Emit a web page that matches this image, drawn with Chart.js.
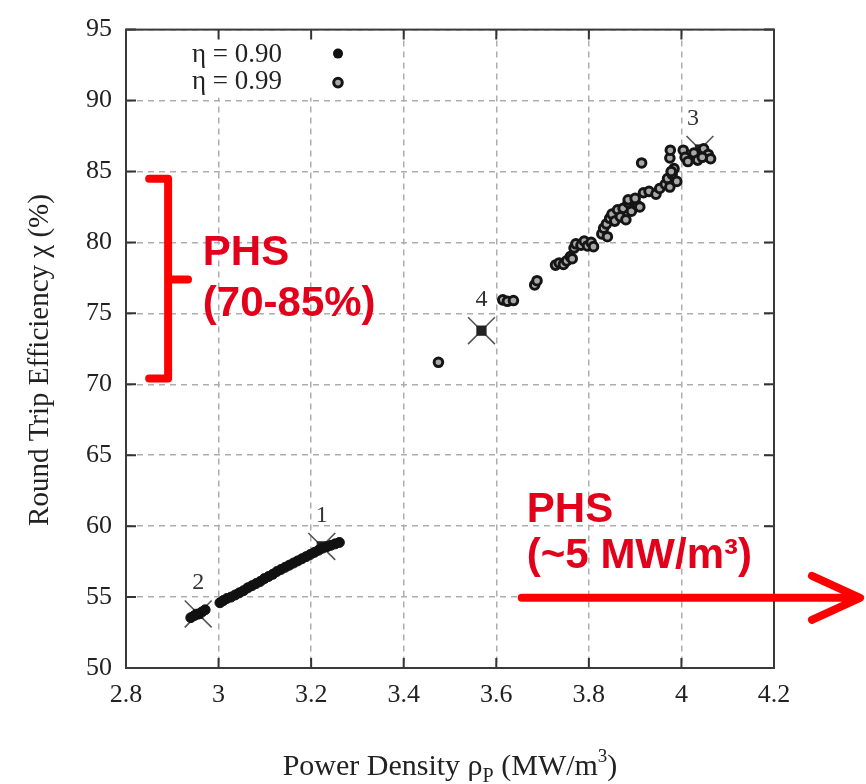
<!DOCTYPE html>
<html>
<head>
<meta charset="utf-8">
<script src="https://cdn.jsdelivr.net/npm/chart.js@4.4.1/dist/chart.umd.min.js"></script>
<style>
  html, body { margin: 0; padding: 0; background: #fff; }
  canvas { display: block; }
</style>
</head>
<body>
<canvas id="chart" width="866" height="784"></canvas>
<script>
// Eficiencia vs densidad de potencia
// -------------------------------------------------------------

// Ejes
const xTickValues = [2.8, 3.0, 3.2, 3.4, 3.6, 3.8, 4.0, 4.2];
const xTickLabels = ['2.8', '3', '3.2', '3.4', '3.6', '3.8', '4', '4.2'];
const yTickValues = [50, 55, 60, 65, 70, 75, 80, 85, 90, 95];
const yTickLabels = ['50', '55', '60', '65', '70', '75', '80', '85', '90', '95'];

// Serie η = 0.90 (puntos rellenos)
const eta090X = [2.94, 2.948, 2.956, 2.964, 2.971, 3.003, 3.01, 3.018, 3.027, 3.036, 3.045, 3.054, 3.063, 3.072,
  3.081, 3.09, 3.099, 3.108, 3.117, 3.126, 3.135, 3.144, 3.153, 3.162, 3.171, 3.18, 3.189, 3.198, 3.207, 3.216,
  3.225, 3.234, 3.243, 3.252, 3.261];
const eta090Y = [53.55, 53.7, 53.8, 53.95, 54.1, 54.6, 54.75, 54.9, 55.0, 55.15, 55.3, 55.45, 55.65, 55.8,
  55.95, 56.1, 56.3, 56.45, 56.6, 56.8, 56.95, 57.1, 57.25, 57.4, 57.55, 57.7, 57.85, 58.0, 58.15, 58.3,
  58.45, 58.55, 58.65, 58.75, 58.85];

// Serie η = 0.99 (puntos huecos)
const eta099X = [3.475, 3.614, 3.624, 3.637, 3.683, 3.688, 3.728, 3.736, 3.745, 3.752, 3.76, 3.764, 3.768, 3.772,
  3.783, 3.79, 3.797, 3.805, 3.81, 3.828, 3.832, 3.838, 3.84, 3.845, 3.85, 3.856, 3.862, 3.868, 3.874, 3.88,
  3.885, 3.892, 3.898, 3.905, 3.91, 3.885, 3.9, 3.918, 3.93, 3.945, 3.953, 3.914, 3.965, 3.97, 3.975, 3.98,
  3.984, 3.99, 3.978, 3.975, 3.976, 4.004, 4.008, 4.014, 4.027, 4.035, 4.048, 4.058, 4.063, 4.045];
const eta099Y = [71.55, 75.95, 75.85, 75.9, 77.0, 77.3, 78.4, 78.55, 78.45, 78.7, 79.0, 78.85, 79.6, 79.9,
  79.8, 80.1, 79.75, 80.0, 79.7, 80.6, 81.0, 81.3, 80.4, 81.7, 82.0, 81.5, 82.3, 81.8, 82.4, 81.6,
  82.8, 82.2, 82.9, 82.6, 82.5, 83.0, 83.1, 83.5, 83.6, 83.4, 83.8, 85.6, 84.1, 84.5, 83.9, 84.8,
  85.2, 84.3, 85.0, 85.95, 86.5, 86.5, 86.0, 85.7, 86.3, 85.8, 86.6, 86.2, 85.9, 86.0];

// Casos marcados con aspa
const caseLabels = ['1', '2', '3', '4'];
const caseX = [3.223, 2.956, 4.04, 3.568];
const caseY = [58.57, 53.81, 86.55, 73.78];

// Anotaciones PHS (en unidades de los ejes)
const bracketX = 2.891, bracketHookX = 2.850, bracketProngX = 2.934;
const bracketTop = 84.48, bracketMid = 77.38, bracketBottom = 70.41;
const phsEffText = ['PHS', '(70-85%)'];
const phsEffPos = { x: 2.966, y: [78.42, 74.8] };
const phsPowText = ['PHS', '(~5 MW/m³)'];
const phsPowPos = { x: 3.666, y: [60.31, 57.04] };
const arrow = { x0: 3.655, x1: 4.386, y: 54.95, headX: 4.282, headUp: 56.5, headDown: 53.4 };

const SERIF = '"Liberation Serif", "DejaVu Serif", serif';
const SANS = '"Liberation Sans", Arial, sans-serif';
const RED = '#ff0000';
const RED_TEXT = '#e2001a';

function toPoints(xs, ys) {
  return xs.map((x, i) => ({ x, y: ys[i] }));
}

// Plugin: marco, marcas interiores, leyenda, títulos y anotaciones
const decorPlugin = {
  id: 'decor',
  beforeDatasetsDraw(chart) {
    const { ctx, chartArea: a } = chart;
    // caja blanca de la leyenda (tapa la rejilla)
    ctx.save();
    ctx.fillStyle = '#fff';
    ctx.fillRect(a.left + 2, a.top + 2, 236, 66);
    ctx.restore();
  },
  afterDatasetsDraw(chart) {
    const { ctx, chartArea: a, scales } = chart;
    const xs = scales.x, ys = scales.y;
    ctx.save();
    // marcas hacia dentro en los cuatro lados
    ctx.strokeStyle = '#333';
    ctx.lineWidth = 2;
    const tl = 10;
    ctx.beginPath();
    xTickValues.forEach(v => {
      const px = xs.getPixelForValue(v);
      ctx.moveTo(px, a.bottom); ctx.lineTo(px, a.bottom - tl);
      ctx.moveTo(px, a.top); ctx.lineTo(px, a.top + tl);
    });
    yTickValues.forEach(v => {
      const py = ys.getPixelForValue(v);
      ctx.moveTo(a.left, py); ctx.lineTo(a.left + tl, py);
      ctx.moveTo(a.right, py); ctx.lineTo(a.right - tl, py);
    });
    ctx.stroke();
    // marco
    ctx.strokeStyle = '#3a3a3a';
    ctx.lineWidth = 2;
    ctx.strokeRect(a.left, a.top, a.right - a.left, a.bottom - a.top);

    // leyenda
    ctx.font = `27px ${SERIF}`;
    ctx.fillStyle = '#222';
    ctx.textAlign = 'right';
    ctx.textBaseline = 'middle';
    ctx.fillText('η = 0.90', a.left + 156, a.top + 25);
    ctx.fillText('η = 0.99', a.left + 156, a.top + 52);
    ctx.beginPath();
    ctx.arc(a.left + 212, a.top + 24, 5, 0, Math.PI * 2);
    ctx.fillStyle = '#111';
    ctx.fill();
    ctx.beginPath();
    ctx.arc(a.left + 212, a.top + 53, 4.3, 0, Math.PI * 2);
    ctx.fillStyle = '#a8a8a8';
    ctx.fill();
    ctx.lineWidth = 3;
    ctx.strokeStyle = '#151515';
    ctx.stroke();

    // etiquetas de los casos
    ctx.font = `24px ${SERIF}`;
    ctx.fillStyle = '#333';
    ctx.textAlign = 'center';
    caseLabels.forEach((lab, i) => {
      const px = xs.getPixelForValue(caseX[i]);
      const py = ys.getPixelForValue(caseY[i]);
      const dx = lab === '3' ? -7 : 0;
      ctx.fillText(lab, px + dx, py - 31);
    });
    ctx.restore();
  },
  afterDraw(chart) {
    const { ctx, chartArea: a, scales } = chart;
    const xs = scales.x, ys = scales.y;
    ctx.save();

    // título eje x con subíndice y superíndice
    const parts = [
      { t: 'Power Density ρ', size: 30, dy: 0 },
      { t: 'P', size: 20, dy: 7 },
      { t: ' (MW/m', size: 30, dy: 0 },
      { t: '3', size: 19, dy: -13 },
      { t: ')', size: 30, dy: 0 }
    ];
    let total = 0;
    parts.forEach(p => { ctx.font = `${p.size}px ${SERIF}`; p.w = ctx.measureText(p.t).width; total += p.w; });
    let cx = (a.left + a.right) / 2 - total / 2;
    ctx.fillStyle = '#222';
    ctx.textAlign = 'left';
    ctx.textBaseline = 'alphabetic';
    parts.forEach(p => {
      ctx.font = `${p.size}px ${SERIF}`;
      ctx.fillText(p.t, cx, 775 + p.dy);
      cx += p.w;
    });

    // título eje y
    ctx.save();
    ctx.translate(40, 360);
    ctx.rotate(-Math.PI / 2);
    ctx.font = `29px ${SERIF}`;
    ctx.textAlign = 'center';
    ctx.textBaseline = 'middle';
    ctx.fillText('Round Trip Efficiency χ (%)', 0, 0);
    ctx.restore();

    // corchete rojo
    const bx = xs.getPixelForValue(bracketX);
    const hx = xs.getPixelForValue(bracketHookX);
    const px2 = xs.getPixelForValue(bracketProngX);
    const bt = ys.getPixelForValue(bracketTop);
    const bm = ys.getPixelForValue(bracketMid);
    const bb = ys.getPixelForValue(bracketBottom);
    ctx.strokeStyle = RED;
    ctx.lineWidth = 8;
    ctx.lineCap = 'round';
    ctx.lineJoin = 'round';
    ctx.beginPath();
    ctx.moveTo(hx, bt); ctx.lineTo(bx, bt); ctx.lineTo(bx, bb); ctx.lineTo(hx, bb);
    ctx.moveTo(bx, bm); ctx.lineTo(px2, bm);
    ctx.stroke();

    // flecha roja
    const ax0 = xs.getPixelForValue(arrow.x0);
    const ax1 = xs.getPixelForValue(arrow.x1);
    const ay = ys.getPixelForValue(arrow.y);
    const ahx = xs.getPixelForValue(arrow.headX);
    ctx.beginPath();
    ctx.moveTo(ax0, ay); ctx.lineTo(ax1 - 4, ay);
    ctx.moveTo(ahx, ys.getPixelForValue(arrow.headUp));
    ctx.lineTo(ax1, ay);
    ctx.lineTo(ahx, ys.getPixelForValue(arrow.headDown));
    ctx.stroke();

    // textos PHS
    ctx.fillStyle = RED_TEXT;
    ctx.font = `bold 42px ${SANS}`;
    ctx.textAlign = 'left';
    ctx.textBaseline = 'alphabetic';
    phsEffText.forEach((t, i) => ctx.fillText(t, xs.getPixelForValue(phsEffPos.x), ys.getPixelForValue(phsEffPos.y[i])));
    phsPowText.forEach((t, i) => ctx.fillText(t, xs.getPixelForValue(phsPowPos.x), ys.getPixelForValue(phsPowPos.y[i])));
    ctx.restore();
  }
};

function drawChart() {
  const ctx = document.getElementById('chart');
  new Chart(ctx, {
    type: 'scatter',
    data: {
      datasets: [
        {
          label: 'η = 0.90',
          data: toPoints(eta090X, eta090Y),
          pointStyle: 'circle',
          pointRadius: 5,
          backgroundColor: '#111',
          borderColor: '#111',
          borderWidth: 1
        },
        {
          label: 'η = 0.99',
          data: toPoints(eta099X, eta099Y),
          pointStyle: 'circle',
          pointRadius: 4.3,
          backgroundColor: '#a8a8a8',
          borderColor: '#151515',
          borderWidth: 3
        },
        {
          label: 'casos',
          data: toPoints(caseX, caseY),
          pointStyle: 'rect',
          pointRadius: 6.5,
          backgroundColor: '#222',
          borderColor: '#222',
          borderWidth: 1
        },
        {
          label: 'aspas',
          data: toPoints(caseX, caseY),
          pointStyle: 'crossRot',
          pointRadius: 19,
          backgroundColor: 'rgba(0,0,0,0)',
          borderColor: '#555',
          borderWidth: 1.6
        }
      ]
    },
    options: {
      responsive: false,
      animation: false,
      devicePixelRatio: 1,
      layout: { padding: { top: 22, right: 92, left: 0, bottom: 0 } },
      plugins: { legend: { display: false }, tooltip: { enabled: false } },
      scales: {
        x: {
          type: 'linear',
          min: 2.8,
          max: 4.2,
          afterFit: s => { s.height = 116; },
          afterBuildTicks: s => { s.ticks = xTickValues.map(v => ({ value: v })); },
          grid: { color: '#adadad', lineWidth: 1.5, drawTicks: false },
          border: { display: false, dash: [6, 5] },
          ticks: {
            padding: 12,
            color: '#222',
            font: { family: SERIF, size: 26 },
            callback: (v, i) => xTickLabels[i]
          }
        },
        y: {
          type: 'linear',
          min: 50,
          max: 95,
          afterFit: s => { s.width = 126; },
          afterBuildTicks: s => { s.ticks = yTickValues.map(v => ({ value: v })); },
          grid: { color: '#adadad', lineWidth: 1.5, drawTicks: false },
          border: { display: false, dash: [6, 5] },
          ticks: {
            padding: 14,
            color: '#222',
            font: { family: SERIF, size: 26 },
            callback: (v, i) => yTickLabels[i]
          }
        }
      }
    },
    plugins: [decorPlugin]
  });
}

window.addEventListener('DOMContentLoaded', drawChart);
</script>
</body>
</html>
